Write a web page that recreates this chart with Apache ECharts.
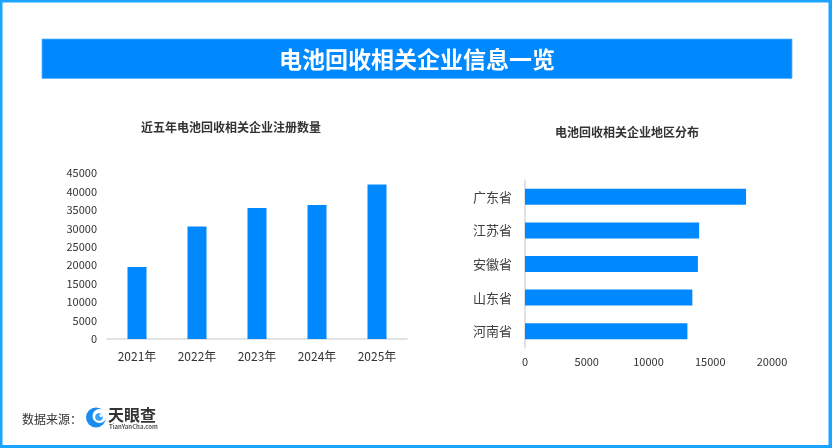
<!DOCTYPE html>
<html>
<head>
<meta charset="utf-8">
<script src="https://cdn.jsdelivr.net/npm/echarts@6/dist/echarts.min.js"></script>
<style>
html,body{margin:0;padding:0;background:#fff;}
#main{width:832px;height:448px;}
</style>
</head>
<body>
<div id="main"></div>
<script>
var years = ['2021年', '2022年', '2023年', '2024年', '2025年'];
var yearCounts = [19500, 30500, 35500, 36300, 41900];
var provinces = ['广东省', '江苏省', '安徽省', '山东省', '河南省'];
var provinceCounts = [17900, 14100, 14000, 13550, 13150];

var FONT = '"Noto Sans CJK SC", "Noto Sans", sans-serif';
var BAR = '#0088ff';
var FRAME = '#1aa3ff';
function plain(v) { return String(v); }

var chart = echarts.init(document.getElementById('main'), null, {renderer: 'canvas'});
chart.setOption({
  backgroundColor: '#fff',
  animation: false,
  textStyle: {fontFamily: FONT},
  title: [
    {text: '近五年电池回收相关企业注册数量', left: 226, top: 116, textAlign: 'center',
     textStyle: {fontSize: 12, fontWeight: 'bold', color: '#333', fontFamily: FONT}},
    {text: '电池回收相关企业地区分布', left: 622, top: 121, textAlign: 'center',
     textStyle: {fontSize: 12, fontWeight: 'bold', color: '#333', fontFamily: FONT}}
  ],
  grid: [
    {left: 107, top: 173, width: 300, height: 166, containLabel: false, outerBoundsMode: 'none'},
    {left: 525, top: 180, width: 247, height: 168, containLabel: false, outerBoundsMode: 'none'}
  ],
  xAxis: [
    {gridIndex: 0, type: 'category', data: years,
     axisLine: {lineStyle: {color: '#d9d9d9', width: 1.5}},
     axisTick: {show: false},
     axisLabel: {color: '#333', fontSize: 12, margin: 11, fontFamily: FONT}},
    {gridIndex: 1, type: 'value', min: 0, max: 20000, interval: 5000,
     axisLine: {show: false}, axisTick: {show: false}, splitLine: {show: false},
     axisLabel: {color: '#333', fontSize: 11, margin: 8, fontFamily: FONT, formatter: plain}}
  ],
  yAxis: [
    {gridIndex: 0, type: 'value', min: 0, max: 45000, interval: 5000,
     axisLine: {show: false}, axisTick: {show: false}, splitLine: {show: false},
     axisLabel: {color: '#333', fontSize: 11, margin: 10, fontFamily: FONT, formatter: plain}},
    {gridIndex: 1, type: 'category', data: provinces, inverse: true,
     axisLine: {lineStyle: {color: '#d9d9d9', width: 1.5}},
     axisTick: {show: false},
     axisLabel: {color: '#404040', fontSize: 13, margin: 13, fontFamily: FONT}}
  ],
  series: [
    {type: 'bar', xAxisIndex: 0, yAxisIndex: 0, data: yearCounts, barWidth: 19,
     itemStyle: {color: BAR}},
    {type: 'bar', xAxisIndex: 1, yAxisIndex: 1, data: provinceCounts, barWidth: 16,
     itemStyle: {color: BAR}}
  ],
  graphic: [
    {type: 'rect', shape: {x: 0, y: 0, width: 2.5, height: 448}, style: {fill: FRAME}},
    {type: 'rect', shape: {x: 0, y: 0, width: 832, height: 2.5}, style: {fill: FRAME}},
    {type: 'rect', shape: {x: 828.5, y: 0, width: 4, height: 448}, style: {fill: FRAME}},
    {type: 'rect', shape: {x: 0, y: 445, width: 832, height: 3}, style: {fill: FRAME}},
    {type: 'rect', shape: {x: 42, y: 39, width: 750, height: 39.5}, style: {fill: BAR, stroke: '#5fb3ff', lineWidth: 0.8}},
    {type: 'text', x: 417, y: 59, style: {text: '电池回收相关企业信息一览', fill: '#fff',
      font: 'bold 23px ' + FONT, textAlign: 'center', textVerticalAlign: 'middle'}},
    {type: 'text', x: 22, y: 419, style: {text: '数据来源：', fill: '#333',
      font: '12px ' + FONT, textAlign: 'left', textVerticalAlign: 'middle'}},
    {type: 'circle', shape: {cx: 96, cy: 417.5, r: 10}, style: {fill: '#1a8cf0'}},
    {type: 'circle', shape: {cx: 99.5, cy: 416, r: 7}, style: {fill: '#fff'}},
    {type: 'circle', shape: {cx: 99, cy: 417, r: 3.8}, style: {fill: '#3aa0f5'}},
    {type: 'circle', shape: {cx: 101, cy: 415.5, r: 1.6}, style: {fill: '#fff'}},
    {type: 'text', x: 108, y: 415, style: {text: '天眼查', fill: '#333',
      font: 'bold 16px ' + FONT, textAlign: 'left', textVerticalAlign: 'middle'}},
    {type: 'text', x: 109, y: 426.5, style: {text: 'TianYanCha.com', fill: '#555',
      font: 'bold 6px ' + FONT, textAlign: 'left', textVerticalAlign: 'middle'}}
  ]
});
</script>
</body>
</html>
